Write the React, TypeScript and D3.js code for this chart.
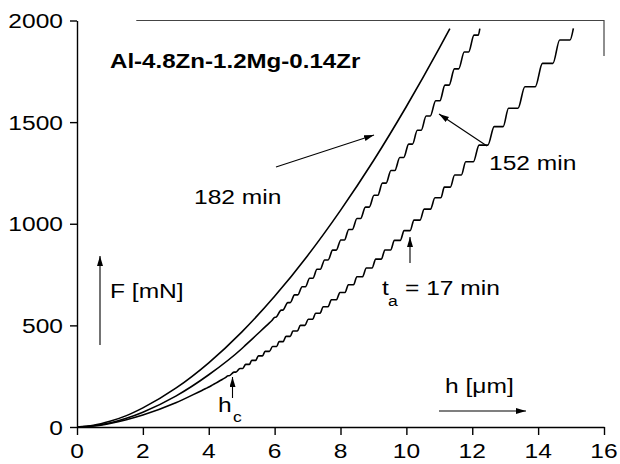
import React, { useEffect, useRef } from "react";
import * as d3 from "d3";

// depth h [um] and load F [mN]
const h182 = [0, 0.5, 1, 1.5, 2, 3, 4, 5, 6, 7, 8, 9, 10, 11, 11.32];
const f182 = [0, 8, 28, 56, 94, 191, 316, 467, 643, 843, 1066, 1310, 1577, 1864, 1960];

const h152 = [0, 0.5, 1, 1.5, 2, 3, 4, 5, 6, 7, 8, 9, 10, 11, 12, 12.23];
const f152 = [0, 6, 20, 43, 73, 152, 257, 385, 536, 710, 906, 1122, 1359, 1617, 1894, 1960];

const h17 = [0, 0.5, 1, 1.5, 2, 3, 4, 5, 6, 7, 8, 9, 10, 11, 12, 13, 14, 15.07];
const f17 = [0, 5, 18, 36, 59, 119, 196, 289, 396, 518, 653, 801, 962, 1135, 1320, 1517, 1725, 1961];

// loads where the serrations (load steps) sit
const steps152 = [540, 575, 612, 650, 690, 732, 776, 822, 870, 920, 972, 1026, 1082, 1140, 1200,
  1262, 1326, 1392, 1460, 1530, 1605, 1682, 1762, 1845, 1928];
const steps17 = [252, 270, 288, 308, 328, 350, 372, 396, 420, 446, 472, 500, 530, 560, 592, 626,
  662, 700, 739, 782, 826, 871, 918, 966, 1018, 1072, 1128, 1180, 1240, 1305, 1387, 1478, 1568,
  1674, 1789, 1904];

const xTicks = [0, 2, 4, 6, 8, 10, 12, 14, 16];
const yTicks = [0, 500, 1000, 1500, 2000];

const FONT = "'Liberation Sans', Arial, sans-serif";

// staircase through the listed step loads, following the read-off curve
function serrated(hs: number[], fs: number[], steps: number[], frac: number) {
  const hOf = d3.scaleLinear().domain(fs).range(hs);
  const pts: [number, number][] = [];
  const d = steps[1] - steps[0];
  const lead = steps[0] - 4 * d;
  hs.forEach((h, i) => { if (fs[i] < lead) pts.push([h, fs[i]]); });
  for (let f = lead; f < steps[0]; f += d / 2) pts.push([hOf(f), f]);
  steps.forEach((f, i) => {
    const lo = i > 0 ? steps[i - 1] : f - d;
    const hi = i < steps.length - 1 ? steps[i + 1] : f + (f - steps[i - 1]);
    const a = (frac * Math.min(1, (i + 1) / 4) * (hOf(hi) - hOf(lo))) / 2;
    pts.push([hOf(f) - a, f], [hOf(f) + a, f]);
  });
  hs.forEach((h, i) => { if (fs[i] > steps[steps.length - 1]) pts.push([h, fs[i]]); });
  return pts;
}

export default function App() {
  const ref = useRef<SVGSVGElement>(null);

  useEffect(() => {
    const svg = d3.select(ref.current);
    svg.selectAll("*").remove();

    const x = d3.scaleLinear().domain([0, 16]).range([77, 604]);
    const y = d3.scaleLinear().domain([0, 2000]).range([427, 20.5]);

    svg.append("defs").append("marker")
      .attr("id", "arr")
      .attr("markerUnits", "userSpaceOnUse")
      .attr("markerWidth", 12).attr("markerHeight", 8)
      .attr("refX", 10).attr("refY", 3)
      .attr("orient", "auto")
      .append("path")
      .attr("d", "M0,0 L10,3 L0,6 Z")
      .attr("fill", "#000");

    const label = (px: number, py: number, txt: string, size = 21, anchor = "start", weight = "normal") =>
      svg.append("text")
        .attr("transform", `translate(${px},${py}) scale(1.17,1)`)
        .attr("text-anchor", anchor)
        .attr("font-family", FONT)
        .attr("font-size", size)
        .attr("font-weight", weight)
        .attr("fill", "#000")
        .text(txt);

    // axes
    const yAxis = svg.append("g").attr("transform", `translate(${x(0)},0)`);
    yAxis.call(d3.axisLeft(y).tickValues(d3.range(250, 2000, 500)).tickSize(4).tickSizeOuter(0).tickFormat(() => ""));
    yAxis.call(d3.axisLeft(y).tickValues(yTicks).tickSize(7).tickSizeOuter(0).tickFormat(() => ""));
    const xAxis = svg.append("g").attr("transform", `translate(0,${y(0)})`);
    xAxis.call(d3.axisBottom(x).tickValues(d3.range(1, 16, 2)).tickSize(5).tickSizeOuter(0).tickFormat(() => ""));
    xAxis.call(d3.axisBottom(x).tickValues(xTicks).tickSize(8).tickSizeOuter(0).tickFormat(() => ""));
    svg.selectAll(".domain, .tick line").attr("stroke", "#000").attr("stroke-width", 1.4);

    yTicks.forEach(v => label(63, y(v) + 7.5, String(v), 21, "end"));
    xTicks.forEach(v => label(x(v), 458, String(v), 21, "middle"));

    // partial frame
    svg.append("path")
      .attr("d", `M${x(1.8)},${y(2000)} H${x(16)} V${y(1825)}`)
      .attr("fill", "none").attr("stroke", "#444").attr("stroke-width", 1.2);

    // curves
    const line = d3.line<[number, number]>()
      .x(d => x(d[0])).y(d => y(d[1]))
      .curve(d3.curveMonotoneX);

    const curves: [number, number][][] = [
      h182.map((h, i) => [h, f182[i]] as [number, number]),
      serrated(h152, f152, steps152, 0.22),
      serrated(h17, f17, steps17, 0.3),
    ];
    svg.selectAll("path.curve")
      .data(curves)
      .enter()
      .append("path")
      .attr("class", "curve")
      .attr("d", d => line(d))
      .attr("fill", "none")
      .attr("stroke", "#000")
      .attr("stroke-width", 1.6);

    // annotations
    label(110, 68, "Al-4.8Zn-1.2Mg-0.14Zr", 20.6, "start", "bold");
    label(194, 204, "182 min");
    label(489, 170, "152 min");
    label(382, 295, "t");
    label(388, 306, "a", 15);
    label(405, 295, "= 17 min");
    label(110, 298, "F [mN]");
    label(218, 412, "h");
    label(233, 422, "c", 15);
    label(445, 393, "h [\u03bcm]");

    const arrow = (x1: number, y1: number, x2: number, y2: number) =>
      svg.append("line")
        .attr("x1", x1).attr("y1", y1).attr("x2", x2).attr("y2", y2)
        .attr("stroke", "#000").attr("stroke-width", 1.1)
        .attr("marker-end", "url(#arr)");

    arrow(276, 167, 374, 135);
    arrow(487, 146, 439, 114);
    arrow(410, 263, 410, 237);
    arrow(232.5, 398, 232.5, 377);
    arrow(100, 345, 100, 256);
    arrow(439, 411, 526, 411);
  }, []);

  return (
    <svg
      ref={ref}
      width={620}
      height={464}
      style={{ position: "absolute", left: 0, top: 0, background: "#fff" }}
    />
  );
}
